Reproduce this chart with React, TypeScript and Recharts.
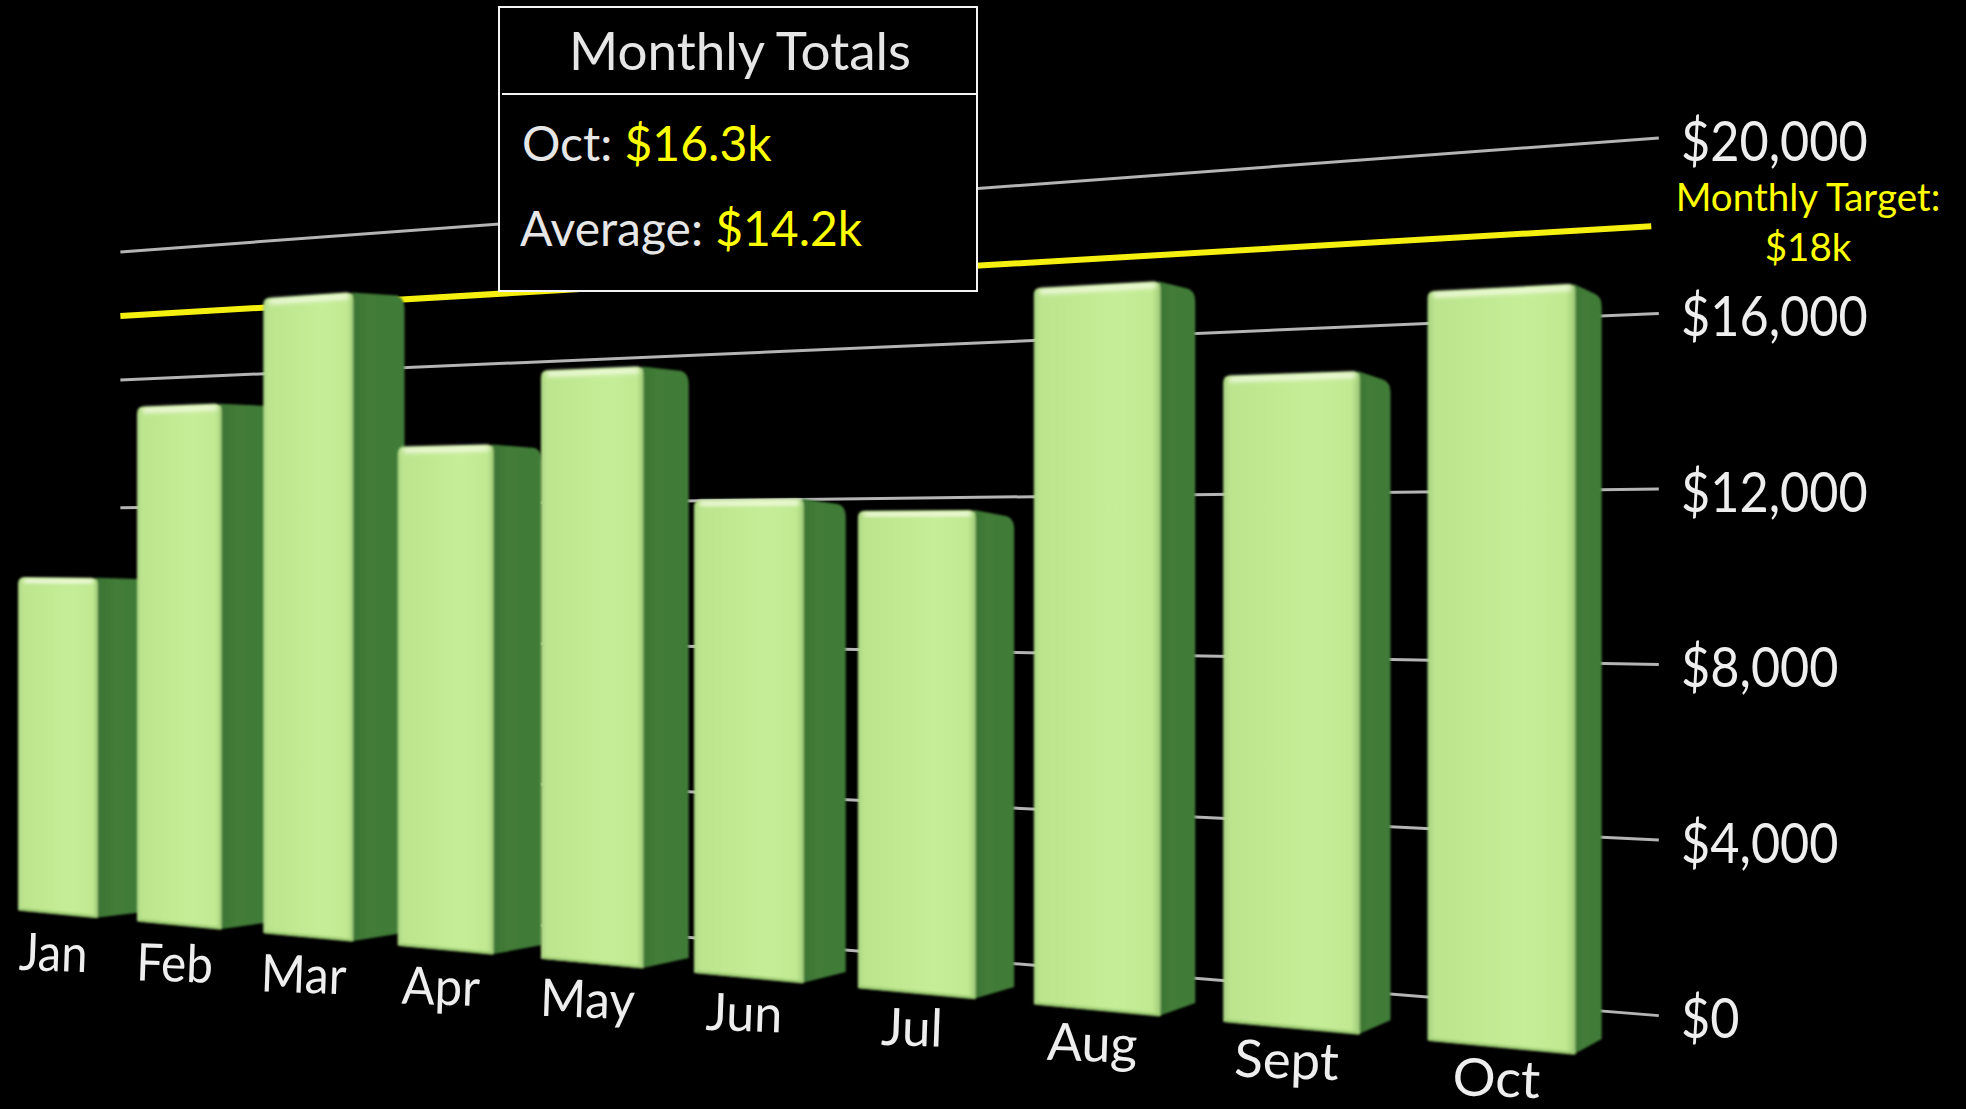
import React from "react";
import { BarChart, Bar, XAxis, YAxis, CartesianGrid, ReferenceLine } from "recharts";

const months = ["Jan", "Feb", "Mar", "Apr", "May", "Jun", "Jul", "Aug", "Sept", "Oct"];
const totals = [9800, 14700, 17600, 13400, 15300, 11900, 11600, 16800, 14600, 16300];
const yTicks = [0, 4000, 8000, 12000, 16000, 20000];
const target = 18000;

const chartData = months.map((month, i) => ({ month, total: totals[i] }));

const W = 1966;
const H = 1109;
const FONT = "Lato, 'Open Sans', sans-serif";

// flat plot area recharts works in, everything gets projected from here
const M = 40;
const X_AXIS_H = 40;
const Y_AXIS_W = 60;
const PLOT_L = M;
const PLOT_W = W - 2 * M - Y_AXIS_W;
const PLOT_T = M;
const PLOT_H = H - 2 * M - X_AXIS_H;

const K = W / 1568;
const BACK_L = 96;
const BACK_R = 1323;

const toU = (x: number) => ((x - PLOT_L) / PLOT_W) * months.length;
const toV = (y: number) => ((PLOT_T + PLOT_H - y) / PLOT_H) * 20;

const screenX = (u: number) => (91.23 * u - 0.28) / (1 - 0.02907 * u);
const frontY = (sx: number, v: number) => 724.7 + 0.0924 * sx - v * (27.0 + 0.0085 * sx);
const backY = (sx: number, v: number) =>
  711 + (sx - BACK_L) * 0.0807 - v * (25.5 + (sx - BACK_L) * 0.00774);

function GridLine(props: any) {
  const v = toV(props.y1);
  return (
    <line
      key={props.key}
      x1={BACK_L * K}
      x2={BACK_R * K}
      y1={backY(BACK_L, v) * K}
      y2={backY(BACK_R, v) * K}
      stroke="#b4b4b4"
      strokeWidth={3}
    />
  );
}

function TargetLine(props: any) {
  const v = toV(props.y1 ?? props.viewBox?.y ?? 0);
  return (
    <g>
      <line
        x1={BACK_L * K}
        x2={1317 * K}
        y1={backY(BACK_L, v) * K}
        y2={backY(1317, v) * K}
        stroke="#f5f010"
        strokeWidth={6}
      />
      <text x={1808} y={211} textAnchor="middle" fill="#ffff00" fontFamily={FONT} fontSize={38.5}>
        Monthly Target:
      </text>
      <text x={1808} y={261} textAnchor="middle" fill="#ffff00" fontFamily={FONT} fontSize={38.5}>
        $18k
      </text>
    </g>
  );
}

function PerspectiveBar({ x, y, width }: any) {
  const xl = screenX(toU(x));
  const xr = screenX(toU(x + width));
  const v = toV(y);
  const tl = frontY(xl, v) * K;
  const tr = frontY(xr, v) * K;
  const bl = frontY(xl, 0) * K;
  const br = frontY(xr, 0) * K;
  const depth = (46.4 - 0.0205 * xr) * K;
  const rise = (5.2 + 0.0055 * xr) * K;
  const drop = (3.2 + 0.0055 * xr) * K;
  const L = xl * K;
  const R = xr * K;
  const B = R + depth;
  const r = 7;
  return (
    <g filter="url(#soft)">
      <path
        d={`M${R - 2},${tr} L${B - 7},${tr + drop - 3} Q${B},${tr + drop} ${B},${tr + drop + 10} L${B},${br - rise} L${R - 2},${br} Z`}
        fill="url(#sideGrad)"
      />
      <path
        d={`M${L},${bl} L${L},${tl + r} Q${L},${tl} ${L + r},${tl} L${R - r},${tr} Q${R},${tr} ${R},${tr + r} L${R},${br} Z`}
        fill="url(#faceGrad)"
      />
      <line x1={L + 2} y1={bl - 1} x2={R - 1} y2={br - 1} stroke="#9ccb72" strokeWidth={3} />
      <line
        x1={L + 6}
        y1={tl + 4}
        x2={R - 5}
        y2={tr + 4}
        stroke="#fdfff2"
        strokeWidth={4}
        filter="url(#glow)"
      />
    </g>
  );
}

function MonthTick({ x, payload }: any) {
  const sx = screenX(toU(x));
  const fx = sx * K;
  const xScale = 0.9 + 0.00009 * fx;
  return (
    <text
      transform={`translate(${fx - 5},${966 + 0.087 * fx}) rotate(2) scale(${xScale},1)`}
      textAnchor="middle"
      fill="#eeeeee"
      fontFamily={FONT}
      fontSize={52}
    >
      {payload.value}
    </text>
  );
}

function ValueTick({ y, payload }: any) {
  const v = toV(y);
  return (
    <text
      transform={`translate(1681,${(backY(BACK_R, v) + 2) * K + 20}) scale(0.9,1)`}
      fill="#eeeeee"
      fontFamily={FONT}
      fontSize={56}
    >
      {`$${payload.value.toLocaleString("en-US")}`}
    </text>
  );
}

function TotalsPanel() {
  const row: React.CSSProperties = {
    position: "absolute",
    whiteSpace: "nowrap",
    lineHeight: "60px",
    fontSize: 48,
    color: "#e6e6e6",
  };
  return (
    <div
      style={{
        position: "absolute",
        left: 498,
        top: 6,
        width: 476,
        height: 282,
        background: "#000",
        border: "2px solid #f4f4f4",
        fontFamily: FONT,
      }}
    >
      <div style={{ ...row, left: 2, width: 476, textAlign: "center", top: 12, fontSize: 53 }}>
        Monthly Totals
      </div>
      <div style={{ position: "absolute", left: 2, right: -2, top: 85, height: 2, background: "#f4f4f4" }} />
      <div style={{ ...row, left: 22, top: 105 }}>
        Oct: <span style={{ color: "#ffff00" }}>$16.3k</span>
      </div>
      <div style={{ ...row, left: 20, top: 190 }}>
        Average: <span style={{ color: "#ffff00" }}>$14.2k</span>
      </div>
    </div>
  );
}

export default function App() {
  return (
    <div style={{ position: "fixed", left: 0, top: 0, width: W, height: H, background: "#000", overflow: "hidden" }}>
      <style>{"body{margin:0;background:#000}"}</style>
      <BarChart
        width={W}
        height={H}
        data={chartData}
        margin={{ top: M, right: M, bottom: M, left: M }}
        barCategoryGap="16%"
      >
        <defs>
          <linearGradient id="faceGrad" x1="0" x2="1" y1="0" y2="0">
            <stop offset="0" stopColor="#a8d281" />
            <stop offset="0.05" stopColor="#bce48e" />
            <stop offset="0.35" stopColor="#c1e992" />
            <stop offset="0.65" stopColor="#c6ed98" />
            <stop offset="0.93" stopColor="#c1e992" />
            <stop offset="0.98" stopColor="#a9d380" />
            <stop offset="1" stopColor="#7fae62" />
          </linearGradient>
          <linearGradient id="sideGrad" x1="0" x2="1" y1="0" y2="0">
            <stop offset="0" stopColor="#3a7433" />
            <stop offset="0.3" stopColor="#427b37" />
            <stop offset="1" stopColor="#417c38" />
          </linearGradient>
          <filter id="soft" x="-5%" y="-5%" width="110%" height="110%">
            <feGaussianBlur stdDeviation="0.8" />
          </filter>
          <filter id="glow" x="-5%" y="-300%" width="110%" height="700%">
            <feGaussianBlur stdDeviation="2" />
          </filter>
        </defs>
        <CartesianGrid horizontal={GridLine} vertical={false} />
        <XAxis
          dataKey="month"
          height={X_AXIS_H}
          interval={0}
          axisLine={false}
          tickLine={false}
          tick={MonthTick}
        />
        <YAxis
          orientation="right"
          width={Y_AXIS_W}
          domain={[0, 20000]}
          ticks={yTicks}
          interval={0}
          axisLine={false}
          tickLine={false}
          tick={ValueTick}
        />
        <ReferenceLine y={target} shape={TargetLine} zIndex={-50} />
        <Bar dataKey="total" shape={PerspectiveBar} isAnimationActive={false} />
      </BarChart>
      <TotalsPanel />
    </div>
  );
}
